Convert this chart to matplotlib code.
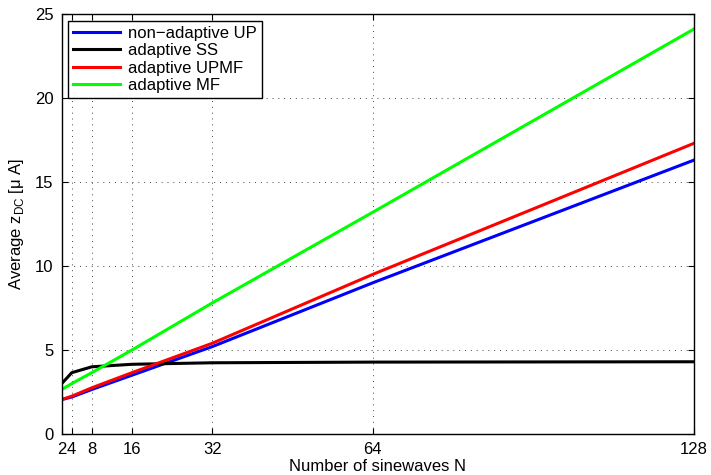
import matplotlib
matplotlib.use("Agg")
import matplotlib.pyplot as plt

plt.rcParams['font.family'] = ['Liberation Sans', 'DejaVu Sans']

N = [2, 4, 8, 16, 32, 64, 128]
up_nonadaptive = [2.05, 2.2, 2.65, 3.5, 5.2, 9.0, 16.3]
ss_adaptive = [3.0, 3.65, 4.0, 4.15, 4.24, 4.28, 4.3]
upmf_adaptive = [2.05, 2.25, 2.75, 3.65, 5.4, 9.5, 17.3]
mf_adaptive = [2.65, 3.0, 3.65, 5.0, 7.8, 13.2, 24.1]

xticks = [2, 4, 8, 16, 32, 64, 128]
yticks = [0, 5, 10, 15, 20, 25]

fig = plt.figure(figsize=(7.11, 4.75), dpi=100)
ax = fig.add_axes([0.0868, 0.0863, 0.889, 0.8842])

ax.plot(N, up_nonadaptive, color='#0000ff', lw=2.2, label='non\u2212adaptive UP')
ax.plot(N, ss_adaptive, color='black', lw=2.2, label='adaptive SS')
ax.plot(N, upmf_adaptive, color='#ff0000', lw=2.2, label='adaptive UPMF')
ax.plot(N, mf_adaptive, color='#00ff00', lw=2.2, label='adaptive MF')

ax.set_xlim(2, 128)
ax.set_ylim(0, 25)
ax.set_xticks(xticks)
ax.set_yticks(yticks)
ax.tick_params(direction='in', top=True, right=True, labelsize=12, length=4, pad=6)
ax.grid(True, linestyle=(0, (1, 5)), color='#444444', lw=0.7)
for s in ax.spines.values():
    s.set_linewidth(1.0)

ax.set_xlabel('Number of sinewaves N', fontsize=12, labelpad=1)
ax.set_ylabel('Average z$_{\\mathregular{DC}}$ [\u03bc A]', fontsize=12, labelpad=6)

leg = ax.legend(loc='upper left', fontsize=12, handlelength=2.8, labelspacing=0.15,
                borderaxespad=0.4, fancybox=False, framealpha=1, edgecolor='black',
                handletextpad=0.5, borderpad=0.3)
leg.get_frame().set_linewidth(1.0)

fig.savefig('out.png', dpi=100)
